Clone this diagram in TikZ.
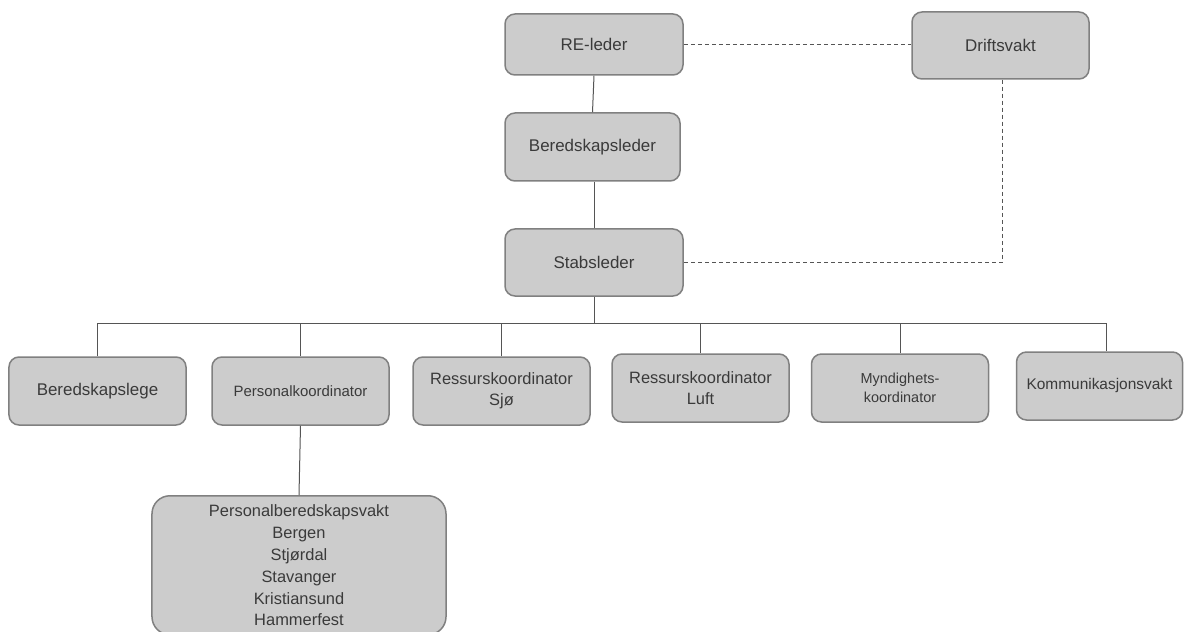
\documentclass[tikz,border=0pt]{standalone}
\usepackage{fontspec}
\setmainfont{Liberation Sans}
\definecolor{boxfill}{HTML}{CCCCCC}
\definecolor{boxline}{HTML}{808080}
\definecolor{txt}{HTML}{3A3A3A}
\definecolor{conn}{HTML}{555555}
\begin{document}
\begin{tikzpicture}[x=1bp,y=-1bp,
  box/.style={draw=boxline, fill=boxfill, line width=1.5bp, rounded corners=10bp,
    minimum width=177bp, minimum height=68bp, align=center, text=txt, inner sep=2bp,
    font=\fontsize{17}{20}\selectfont},
  link/.style={draw=conn, line width=1bp},
  dlink/.style={draw=conn, line width=1bp, dash pattern=on 4bp off 3bp}]
\path[use as bounding box] (0,0) rectangle (1184,632);
\clip (0,0) rectangle (1184,632);
\fill[white] (0,0) rectangle (1184,632);

\node[box, minimum width=178bp, minimum height=61bp] (re) at (594,44.5) {RE-leder};
\node[box, minimum height=67bp] (drift) at (1000.5,45.5) {Driftsvakt};
\node[box, minimum width=175bp] (bl) at (592.5,147) {Beredskapsleder};
\node[box, minimum width=178bp, minimum height=67bp] (stab) at (594,262.5) {Stabsleder};

\node[box] (lege) at (97.5,391) {Beredskapslege};
\node[box, font=\fontsize{15}{18}\selectfont] (pk) at (300.5,391) {Personalkoordinator};
\node[box, font=\fontsize{16.5}{21}\selectfont] (rs) at (501.5,391) {Ressurskoordinator\\Sjø};
\node[box, font=\fontsize{16.5}{21}\selectfont] (rl) at (700.5,388) {Ressurskoordinator\\Luft};
\node[box, font=\fontsize{14.5}{19}\selectfont] (my) at (900,388) {Myndighets-\\koordinator};
\node[box, minimum width=166bp, font=\fontsize{15.5}{18}\selectfont] (kv) at (1099.5,386) {Kommunikasjonsvakt};

\node[box, anchor=north, minimum width=294bp, minimum height=139bp, rounded corners=18bp,
  font=\fontsize{16.5}{22}\selectfont] (pbv) at (299,495)
  {Personalberedskapsvakt\\Bergen\\Stjørdal\\Stavanger\\Kristiansund\\Hammerfest};

\coordinate (bus) at (594,323);
\coordinate (busL) at (97.5,323);
\coordinate (busR) at (1106,323);

\draw[link] (re.south) -- (bl.north);
\draw[link] (stab.north |- bl.south) -- (stab.north);
\draw[link] (stab.south) -- (bus);
\draw[link] (busL) -- (busR);
\draw[link] (lege.north) -- (lege.north |- bus);
\draw[link] (pk.north) -- (pk.north |- bus);
\draw[link] (rs.north) -- (rs.north |- bus);
\draw[link] (rl.north) -- (rl.north |- bus);
\draw[link] (my.north) -- (my.north |- bus);
\draw[link] (busR) -- (busR |- kv.north);
\draw[link] (pk.south) -- (pbv.north);

\draw[dlink] (re.east) -- (re.east -| drift.west);
\draw[dlink] ([xshift=1.5bp]drift.south) |- (stab.east);
\end{tikzpicture}
\end{document}
